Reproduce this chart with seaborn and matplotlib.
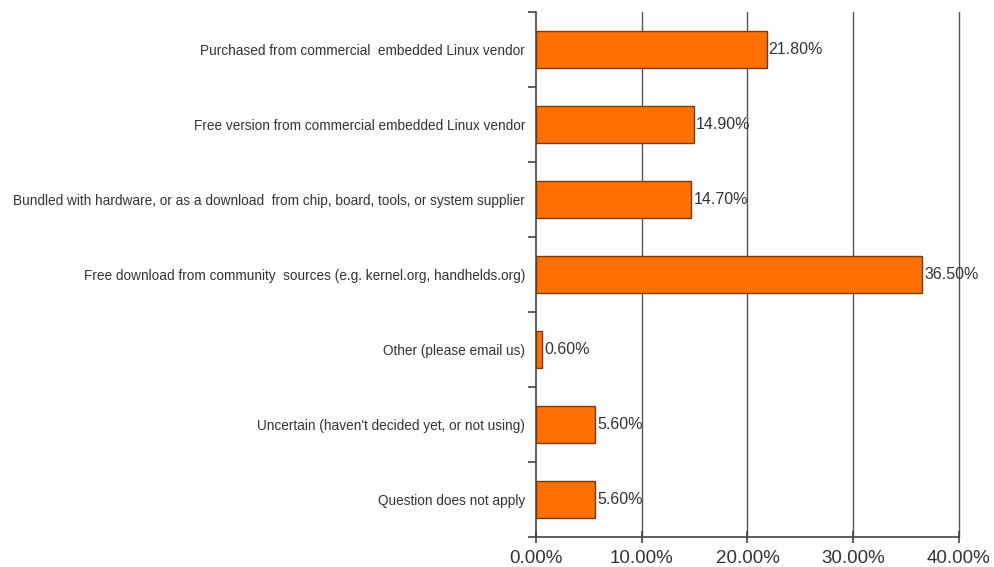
import matplotlib
matplotlib.use("Agg")
import matplotlib.pyplot as plt
import pandas as pd
import numpy as np
import seaborn as sns

sns.set_theme(style="white")
plt.rcParams['font.family'] = ['Liberation Sans', 'DejaVu Sans']

categories = [
    "Purchased from commercial  embedded Linux vendor",
    "Free version from commercial embedded Linux vendor",
    "Bundled with hardware, or as a download  from chip, board, tools, or system supplier",
    "Free download from community  sources (e.g. kernel.org, handhelds.org)",
    "Other (please email us)",
    "Uncertain (haven't decided yet, or not using)",
    "Question does not apply",
]
shares = [21.8, 14.9, 14.7, 36.5, 0.6, 5.6, 5.6]
x_ticks = [0, 10, 20, 30, 40]

df = pd.DataFrame({"source": categories, "share": shares})

fig = plt.figure(figsize=(9.95, 5.67), dpi=100)
ax = fig.add_axes([0.5387, 0.0529, 0.4251, 0.9259])

for t in x_ticks[1:]:
    ax.axvline(t, color="#555555", lw=1.0, zorder=0, clip_on=False)

sns.barplot(data=df, x="share", y="source", orient="h", color="#FF7000",
            saturation=1, width=0.5, edgecolor="#7a3b10", linewidth=1.0,
            ax=ax, zorder=2)

for i, v in enumerate(shares):
    ax.text(v + 0.2, i, "%.2f%%" % v, va="center", ha="left",
            fontsize=11.5, color="#333333", zorder=3)

ax.set_xlim(0, 40)
ax.set_ylim(6.5, -0.5)
ax.set_xticks(x_ticks)
ax.set_xticklabels(["%.2f%%" % t for t in x_ticks], fontsize=13.5, color="#333333")
ax.set_xlabel("")
ax.set_ylabel("")
ax.tick_params(axis="y", which="major", left=True, length=0, pad=8, labelsize=9.8, labelcolor="#333333")
ax.set_yticks(np.arange(-0.5, 7.0, 1.0), minor=True)
ax.tick_params(axis="y", which="minor", left=True, length=6, width=1.2, color="#444444", direction="out")
ax.tick_params(axis="x", which="major", bottom=True, length=8, width=1.2, color="#444444", direction="inout", pad=5)

for side in ["top", "right"]:
    ax.spines[side].set_visible(False)
for side in ["left", "bottom"]:
    ax.spines[side].set_color("#444444")
    ax.spines[side].set_linewidth(1.2)

plt.savefig("out.png", dpi=100)
